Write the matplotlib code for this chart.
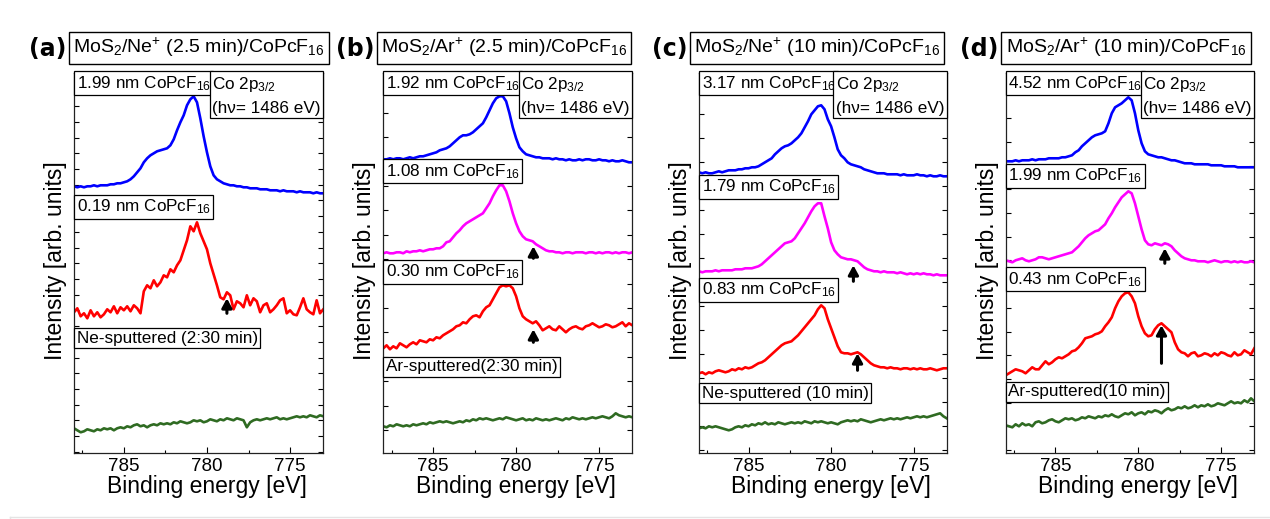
import matplotlib
matplotlib.use('Agg')
import matplotlib.pyplot as plt
from matplotlib.ticker import MultipleLocator, FixedLocator, NullFormatter
from matplotlib.lines import Line2D
import numpy as np

plt.rcParams['font.family'] = ['Liberation Sans', 'DejaVu Sans']
plt.rcParams['mathtext.fontset'] = 'custom'
plt.rcParams['mathtext.rm'] = 'Liberation Sans'
plt.rcParams['mathtext.it'] = 'Liberation Sans:italic'
plt.rcParams['mathtext.bf'] = 'Liberation Sans:bold'

# ---------------- data ----------------
energy = [788.0, 787.8, 787.6, 787.4, 787.2, 787.0, 786.8, 786.6, 786.4, 786.2,
          786.0, 785.8, 785.6, 785.4, 785.2, 785.0, 784.8, 784.6, 784.4, 784.2,
          784.0, 783.8, 783.6, 783.4, 783.2, 783.0, 782.8, 782.6, 782.4, 782.2,
          782.0, 781.8, 781.6, 781.4, 781.2, 781.0, 780.8, 780.6, 780.4, 780.2,
          780.0, 779.8, 779.6, 779.4, 779.2, 779.0, 778.8, 778.6, 778.4, 778.2,
          778.0, 777.8, 777.6, 777.4, 777.2, 777.0, 776.8, 776.6, 776.4, 776.2,
          776.0, 775.8, 775.6, 775.4, 775.2, 775.0, 774.8, 774.6, 774.4, 774.2,
          774.0, 773.8, 773.6, 773.4, 773.2, 773.0]

a_blue = [267, 266, 267, 266, 267, 267, 268, 267, 268, 268,
          268, 269, 269, 270, 270, 271, 272, 274, 277, 281,
          285, 291, 295, 298, 300, 302, 303, 304, 305, 308,
          314, 323, 331, 338, 348, 354, 357, 351, 335, 317,
          301, 287, 278, 274, 272, 270, 269, 268, 268, 267,
          267, 266, 266, 265, 265, 265, 264, 264, 264, 263,
          263, 263, 262, 263, 262, 262, 262, 261, 262, 261,
          261, 261, 260, 261, 260, 260]
a_red = [141, 145, 137, 140, 135, 143, 137, 141, 136, 139,
         144, 141, 147, 140, 146, 143, 147, 142, 148, 145,
         140, 162, 168, 165, 173, 167, 171, 178, 176, 184,
         181, 188, 193, 203, 213, 227, 222, 231, 220, 212,
         204, 190, 179, 168, 156, 154, 161, 158, 144, 152,
         150, 146, 158, 148, 155, 152, 141, 148, 150, 141,
         144, 148, 153, 155, 140, 143, 139, 138, 146, 155,
         144, 141, 139, 153, 140, 144]
a_green = [25, 23, 21, 22, 24, 23, 22, 24, 23, 25,
           24, 25, 23, 25, 26, 25, 27, 26, 28, 29,
           27, 28, 26, 28, 29, 28, 30, 29, 30, 29,
           31, 30, 32, 31, 30, 31, 33, 32, 33, 31,
           32, 34, 33, 32, 34, 33, 35, 34, 33, 35,
           34, 33, 26, 31, 33, 34, 33, 34, 35, 34,
           35, 36, 34, 35, 34, 35, 36, 37, 36, 37,
           36, 38, 37, 36, 38, 37]

b_blue = [294, 294, 295, 294, 295, 295, 294, 295, 296, 295,
          296, 297, 297, 298, 299, 300, 301, 303, 304, 305,
          307, 310, 313, 316, 318, 318, 319, 321, 324, 327,
          330, 336, 343, 350, 355, 357, 357, 352, 340, 326,
          315, 306, 302, 299, 298, 297, 296, 296, 295, 295,
          295, 294, 295, 294, 294, 293, 294, 293, 293, 294,
          293, 294, 294, 293, 293, 294, 293, 293, 292, 293,
          292, 292, 293, 292, 291, 291]
b_magenta = [200, 201, 200, 200, 201, 201, 200, 202, 201, 202,
             202, 203, 202, 203, 204, 204, 205, 205, 207, 211,
             212, 216, 220, 223, 227, 230, 232, 234, 236, 238,
             240, 245, 250, 257, 263, 268, 268, 262, 252, 240,
             230, 222, 217, 214, 213, 212, 209, 207, 205, 203,
             202, 202, 201, 201, 200, 201, 201, 200, 201, 201,
             201, 200, 201, 201, 200, 201, 200, 201, 201, 200,
             201, 200, 201, 201, 200, 201]
b_red = [105, 108, 104, 107, 105, 110, 108, 106, 109, 111,
         109, 113, 112, 111, 114, 113, 116, 115, 118, 120,
         122, 124, 127, 128, 131, 130, 134, 137, 138, 136,
         142, 146, 148, 154, 160, 166, 168, 167, 168, 165,
         157, 145, 137, 134, 132, 130, 132, 128, 123, 125,
         127, 124, 123, 127, 124, 121, 124, 126, 127, 125,
         124, 127, 128, 130, 128, 126, 127, 129, 128, 126,
         127, 129, 131, 127, 130, 128]
b_green = [27, 26, 28, 27, 29, 28, 27, 28, 27, 29,
           28, 29, 30, 29, 31, 30, 31, 32, 31, 32,
           31, 30, 31, 32, 31, 33, 32, 34, 33, 35,
           34, 35, 34, 33, 34, 35, 34, 36, 35, 34,
           33, 34, 35, 33, 34, 33, 35, 34, 33, 34,
           33, 34, 35, 34, 33, 35, 34, 36, 35, 34,
           35, 34, 35, 36, 35, 36, 37, 36, 35, 37,
           40, 38, 37, 36, 37, 36]

c_blue = [281, 280, 281, 280, 280, 281, 282, 281, 282, 283,
          283, 283, 284, 284, 285, 285, 286, 286, 287, 289,
          291, 293, 295, 299, 302, 305, 307, 308, 310, 313,
          316, 320, 326, 332, 339, 343, 347, 348, 344, 334,
          327, 316, 304, 298, 295, 291, 289, 288, 287, 286,
          284, 283, 282, 281, 280, 280, 280, 279, 279, 279,
          279, 278, 279, 278, 278, 278, 279, 278, 278, 277,
          278, 277, 277, 278, 277, 277]
c_magenta = [182, 181, 182, 182, 182, 183, 182, 183, 183, 183,
             183, 184, 184, 184, 185, 185, 185, 186, 187, 189,
             192, 195, 198, 201, 204, 207, 210, 211, 212, 215,
             220, 225, 230, 236, 242, 247, 250, 250, 237, 225,
             211, 203, 199, 196, 195, 194, 194, 193, 192, 189,
             186, 184, 183, 182, 182, 181, 182, 181, 181, 181,
             180, 181, 180, 179, 180, 179, 180, 179, 180, 179,
             179, 178, 179, 178, 178, 178]
c_red = [80, 81, 79, 81, 80, 82, 83, 82, 81, 82,
         84, 83, 85, 84, 86, 85, 86, 88, 90, 91,
         93, 96, 99, 102, 105, 108, 110, 111, 112, 115,
         118, 122, 126, 130, 134, 138, 144, 148, 145, 134,
         125, 116, 107, 101, 100, 100, 99, 100, 101, 99,
         96, 93, 90, 88, 87, 86, 86, 85, 86, 85,
         85, 84, 85, 85, 84, 85, 84, 85, 84, 84,
         85, 84, 83, 84, 85, 85]
c_green = [25, 26, 25, 27, 26, 27, 26, 25, 24, 23,
           24, 26, 27, 26, 28, 27, 29, 28, 30, 29,
           31, 29, 30, 29, 31, 30, 29, 30, 31, 30,
           31, 30, 32, 31, 30, 32, 31, 32, 31, 30,
           31, 30, 29, 31, 32, 33, 32, 33, 32, 34,
           33, 32, 31, 32, 33, 34, 33, 34, 35, 34,
           35, 34, 35, 36, 35, 36, 37, 36, 37, 36,
           37, 38, 39, 40, 37, 35]

d_blue = [292, 292, 292, 293, 292, 293, 293, 293, 294, 293,
          294, 294, 294, 295, 295, 295, 295, 296, 296, 297,
          298, 301, 303, 307, 310, 313, 316, 318, 319, 320,
          322, 330, 340, 346, 348, 350, 353, 356, 353, 340,
          323, 310, 302, 299, 298, 297, 296, 296, 295, 294,
          293, 293, 292, 291, 290, 290, 290, 289, 289, 289,
          289, 289, 288, 288, 288, 288, 287, 287, 287, 287,
          286, 286, 286, 286, 286, 286]
d_magenta = [193, 192, 191, 193, 194, 195, 193, 192, 193, 194,
             196, 196, 195, 194, 195, 196, 197, 198, 199, 200,
             201, 204, 207, 211, 215, 218, 220, 222, 223, 226,
             229, 235, 240, 246, 251, 256, 259, 262, 260, 250,
             237, 224, 213, 209, 208, 210, 209, 208, 210, 209,
             207, 203, 200, 197, 195, 194, 193, 193, 192, 192,
             192, 191, 192, 193, 192, 191, 192, 192, 191, 192,
             191, 192, 191, 191, 192, 191]
d_red = [78, 80, 82, 84, 83, 82, 80, 83, 86, 84,
         84, 88, 92, 89, 91, 94, 96, 95, 97, 99,
         102, 103, 106, 110, 115, 116, 117, 119, 120, 122,
         127, 131, 136, 145, 152, 157, 160, 161, 157, 150,
         137, 127, 120, 117, 118, 124, 128, 130, 127, 124,
         121, 111, 104, 101, 100, 97, 100, 101, 97, 98,
         100, 99, 97, 100, 98, 101, 100, 98, 97, 101,
         98, 99, 103, 101, 99, 105]
d_green = [28, 27, 26, 29, 27, 30, 28, 29, 27, 31,
           32, 30, 31, 33, 34, 32, 31, 33, 35, 34,
           35, 33, 34, 36, 35, 37, 36, 35, 37, 36,
           38, 37, 39, 37, 36, 38, 40, 39, 41, 38,
           40, 41, 39, 42, 41, 43, 42, 40, 43, 45,
           43, 44, 46, 45, 47, 45, 46, 48, 46, 48,
           47, 49, 47, 48, 50, 49, 48, 50, 52, 50,
           51, 50, 53, 51, 55, 52]

panel_letters = ['(a)', '(b)', '(c)', '(d)']
panel_titles = ['MoS$_2$/Ne$^{+}$ (2.5 min)/CoPcF$_{16}$',
                'MoS$_2$/Ar$^{+}$ (2.5 min)/CoPcF$_{16}$',
                'MoS$_2$/Ne$^{+}$ (10 min)/CoPcF$_{16}$',
                'MoS$_2$/Ar$^{+}$ (10 min)/CoPcF$_{16}$']
series_labels = [
    ['1.99 nm CoPcF$_{16}$', '0.19 nm CoPcF$_{16}$', 'Ne-sputtered (2:30 min)'],
    ['1.92 nm CoPcF$_{16}$', '1.08 nm CoPcF$_{16}$', '0.30 nm CoPcF$_{16}$', 'Ar-sputtered(2:30 min)'],
    ['3.17 nm CoPcF$_{16}$', '1.79 nm CoPcF$_{16}$', '0.83 nm CoPcF$_{16}$', 'Ne-sputtered (10 min)'],
    ['4.52 nm CoPcF$_{16}$', '1.99 nm CoPcF$_{16}$', '0.43 nm CoPcF$_{16}$', 'Ar-sputtered(10 min)'],
]
series_values = [
    [a_blue, a_red, a_green],
    [b_blue, b_magenta, b_red, b_green],
    [c_blue, c_magenta, c_red, c_green],
    [d_blue, d_magenta, d_red, d_green],
]
series_colors = [
    ['#0000ff', '#ff0000', '#2f6b22'],
    ['#0000ff', '#ff00ff', '#ff0000', '#2f6b22'],
    ['#0000ff', '#ff00ff', '#ff0000', '#2f6b22'],
    ['#0000ff', '#ff00ff', '#ff0000', '#2f6b22'],
]
# arrows marking the satellite feature: energy, tail, tip
arrow_energy = [[778.8], [778.96, 778.96], [778.65, 778.4], [778.4, 778.6]]
arrow_tail = [[140], [195, 111], [172, 83], [190, 90]]
arrow_tip = [[155], [207, 124], [188, 100], [205, 128]]

core_level_text = 'Co 2p$_{3/2}$\n(h\u03bd= 1486 eV)'
xlabel_text = 'Binding energy [eV]'
ylabel_text = 'Intensity [arb. units]'
xtick_values = [785, 780, 775]

# ---------------- layout (pixels) ----------------
W, H = 1270, 519
fig = plt.figure(figsize=(W / 100, H / 100), dpi=100)

ax_left = [74, 383.3, 699, 1005.7]
ax_right = [323.3, 632.3, 946.7, 1254.3]
ax_top, ax_bot = 72.7, 453.3
ytop = ax_bot - ax_top
label_centers = [[370, 246.6, 115], [370, 282, 181.6, 86.6],
                 [370, 266.6, 163.3, 60], [370, 277.3, 174, 61.6]]
ytick_start = [1.6, 23.3, 3.3, 3.3]
ytick_step = [15.7, 24.4, 24.0, 23.7]
title_box_left = [69, 377, 690, 1001.7]
title_y = 47.8

box_kw = dict(boxstyle='square,pad=0.15', fc='white', ec='black', lw=0.9)

for p in range(4):
    l, r = ax_left[p], ax_right[p]
    wpx = r - l
    ax = fig.add_axes([l / W, (H - ax_bot) / H, wpx / W, ytop / H])
    for vals, col in zip(series_values[p], series_colors[p]):
        ax.plot(energy, vals, color=col, lw=1.9, solid_joinstyle='round', zorder=2)
    ax.set_xlim(788, 773)
    ax.set_ylim(0, ytop)
    for e, t0, t1 in zip(arrow_energy[p], arrow_tail[p], arrow_tip[p]):
        ax.annotate('', xy=(e, t1), xytext=(e, t0),
                    arrowprops=dict(arrowstyle='-|>,head_length=0.55,head_width=0.3',
                                    color='black', lw=2.2, mutation_scale=10,
                                    shrinkA=0, shrinkB=0), zorder=4)
    # ticks
    ax.set_xticks(xtick_values)
    ax.xaxis.set_minor_locator(MultipleLocator(2.5))
    ax.tick_params(axis='x', which='major', direction='in', length=4, width=0.8,
                   labelsize=13.5, pad=3.5, top=False)
    ax.tick_params(axis='x', which='minor', direction='in', length=2.5, width=0.8, top=False)
    ax.yaxis.set_major_locator(FixedLocator(list(np.arange(ytick_start[p], ytop, ytick_step[p]))))
    ax.yaxis.set_major_formatter(NullFormatter())
    ax.tick_params(axis='y', which='major', direction='in', length=3.5, width=0.8,
                   left=True, right=True, labelleft=False)
    for s in ax.spines.values():
        s.set_linewidth(0.9)
        s.set_color('#222222')
    ax.set_xlabel(xlabel_text, fontsize=16.5)
    ax.xaxis.set_label_coords(0.532, -0.058)
    ax.set_ylabel(ylabel_text, fontsize=16.5)
    ax.yaxis.set_label_coords(-7 / wpx, 0.505)
    # series labels
    ytr = ax.get_yaxis_transform()
    for lab, yc in zip(series_labels[p], label_centers[p]):
        ax.text(2.6 / wpx, yc, lab, transform=ytr, ha='left', va='center',
                fontsize=12.3, bbox=box_kw, zorder=5)
    ax.text(1 - 2.6 / wpx, 1 - 2.6 / ytop, core_level_text, transform=ax.transAxes,
            ha='right', va='top', fontsize=12.3, linespacing=1.55,
            multialignment='left', bbox=box_kw, zorder=5)
    # titles
    bx = title_box_left[p]
    fig.text((bx + 4) / W, 1 - title_y / H, panel_titles[p], ha='left', va='center',
             fontsize=14, bbox=dict(boxstyle='square,pad=0.22', fc='white', ec='black', lw=1.0))
    fig.text((bx - 3) / W, 1 - (title_y + 1) / H, panel_letters[p], ha='right', va='center',
             fontsize=17, fontweight='bold', family='DejaVu Sans')

# faint outer frame
fig.add_artist(Line2D([10 / W, 10 / W], [0, 1 - 517 / H], color='#e4e4e4', lw=1.0))
fig.add_artist(Line2D([10 / W, 1], [1 - 517 / H, 1 - 517 / H], color='#e4e4e4', lw=1.0))

fig.savefig('out.png', dpi=100)
